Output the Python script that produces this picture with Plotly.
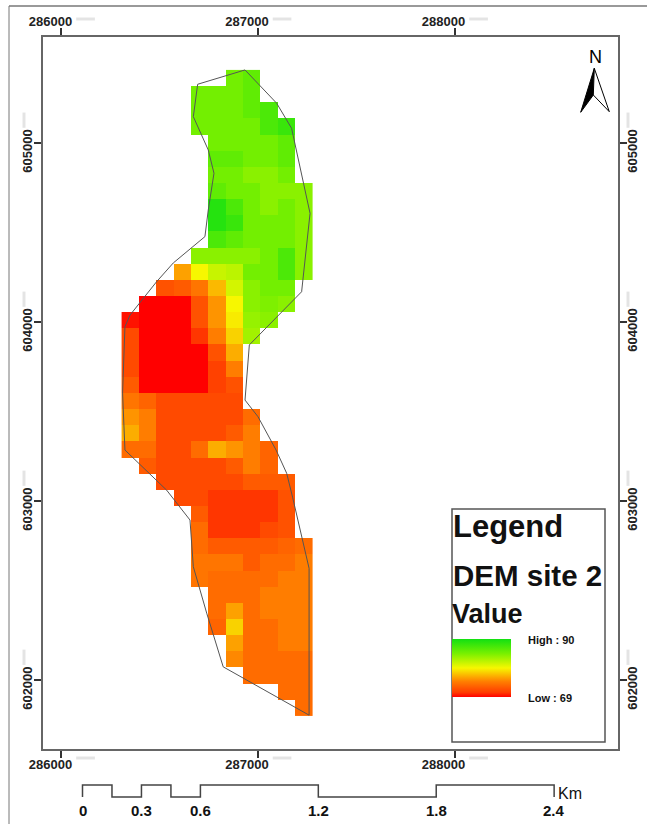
import plotly.graph_objects as go

N = None
# DEM raster, one row per 90 m cell band from north to south, 11 columns from west to east
dem_rows = [
    [N, N, N, N, N, N, 85, 86, N, N, N],
    [N, N, N, N, 85, 85, 85, 86, N, N, N],
    [N, N, N, N, 85, 85, 85, 86, 87, N, N],
    [N, N, N, N, 85, 85, 85, 85, 87, 88, N],
    [N, N, N, N, N, 85, 85, 85, 85, 86, N],
    [N, N, N, N, N, 86, 86, 85, 85, 86, N],
    [N, N, N, N, N, 85, 85, 84, 84, 85, N],
    [N, N, N, N, N, 86, 85, 85, 84, 84, 84],
    [N, N, N, N, N, 89, 87, 85, 84, 85, 84],
    [N, N, N, N, N, 89, 88, 85, 85, 85, 84],
    [N, N, N, N, N, 87, 86, 85, 85, 85, 84],
    [N, N, N, N, 84, 84, 84, 84, 85, 87, 84],
    [N, N, N, 76, 79.5, 81.5, 82, 85, 85, 87, 84],
    [N, N, 72, 72.5, 74, 77, 81, 84, 85, 85, N],
    [N, 69, 69, 69, 72, 75.5, 79.5, 84, 84.5, 84, N],
    [69.5, 69, 69, 69, 72, 75.5, 79, 83.5, 84, N, N],
    [71.5, 69, 69, 69, 70.5, 74.5, 78, 83, N, N, N],
    [71.5, 69, 69, 69, 69, 72, 76.5, N, N, N, N],
    [71.5, 69, 69, 69, 69, 71, 74.5, N, N, N, N],
    [72.5, 69, 69, 69, 69, 71, 72, N, N, N, N],
    [74, 73, 71.5, 71.5, 71.5, 71.5, 71.5, N, N, N, N],
    [75.5, 74.5, 71.5, 71.5, 71.5, 71.5, 71.5, 73.5, N, N, N],
    [76.5, 74.5, 71.5, 71.5, 71.5, 71.5, 72.5, 74.5, N, N, N],
    [73.5, 73.5, 71.5, 71.5, 73.5, 76.5, 75.5, 74.5, 73, N, N],
    [N, 72.5, 71.5, 71.5, 71.5, 71.5, 72.5, 74.5, 73, N, N],
    [N, N, 71.5, 71.5, 71.5, 71.5, 71.5, 72.5, 72.5, 72.5, N],
    [N, N, N, 71.5, 71.5, 70.5, 70.5, 70.5, 70.5, 72, N],
    [N, N, N, N, 72.5, 70.5, 70.5, 70.5, 70.5, 72, N],
    [N, N, N, N, 73.5, 70.5, 70.5, 70.5, 71.5, 72, N],
    [N, N, N, N, 73.5, 72.5, 72.5, 72.5, 72.5, 73, 73.5],
    [N, N, N, N, 74, 74, 74, 72.5, 73.5, 73.5, 74.5],
    [N, N, N, N, 74, 73.5, 73.5, 73.5, 73.5, 74.5, 74.5],
    [N, N, N, N, N, 73.5, 73.5, 73.5, 74.5, 74.5, 74.5],
    [N, N, N, N, N, 73.5, 76, 73.5, 74.5, 74.5, 74.5],
    [N, N, N, N, N, 73, 78, 73.5, 73.5, 74.5, 74.5],
    [N, N, N, N, N, N, 76, 73.5, 73.5, 74.5, 74.5],
    [N, N, N, N, N, N, 75, 73.5, 73.5, 73.5, 73.5],
    [N, N, N, N, N, N, N, 73.5, 73.5, 73.5, 73.5],
    [N, N, N, N, N, N, N, N, N, 73.5, 73.5],
    [N, N, N, N, N, N, N, N, N, N, 73.5],
]
boundary_x = [286693, 286934, 287095, 287171, 287265, 287227, 287222, 286956, 286934, 287000,
              287092, 287146, 287176, 287260, 287260, 286823, 286739, 286671, 286654, 286535,
              286391, 286323, 286311, 286323, 286349, 286484, 286569, 286730, 286747, 286776,
              286747, 286671, 286693]
boundary_y = [605328, 605408, 605222, 605082, 604607, 604235, 604169, 603872, 603564, 603471,
              603285, 603155, 603022, 602624, 601804, 602074, 602374, 602633, 602894, 603061,
              603211, 603285, 603603, 603974, 604039, 604225, 604330, 604477, 604626, 604831,
              604961, 605147, 605328]
x_ticks = [286000, 287000, 288000]
y_ticks = [602000, 603000, 604000, 605000]
scale_km = [0, 0.15, 0.3, 0.45, 0.6, 1.2, 1.8, 2.4]
scale_labels = {0: "0", 0.3: "0.3", 0.6: "0.6", 1.2: "1.2", 1.8: "1.8", 2.4: "2.4"}
dem_low, dem_high = 69, 90

W, H = 647, 824
L, R, T, B = 43, 618, 37, 749
X_RANGE = [285906, 288832]
Y_RANGE = [601615, 605592]
FONT = "Liberation Sans"
colorscale = [[0, "#ff0000"], [0.08, "#ff3c00"], [0.27, "#ff8000"], [0.5, "#f7f700"],
              [0.75, "#78f000"], [1, "#12e012"]]


def px(x):
    return (x - L) / (R - L)


def py(y):
    return 1 - (y - T) / (B - T)


fig = go.Figure()
fig.add_trace(go.Heatmap(
    z=dem_rows, x0=286350, dx=88.2, y0=605363, dy=-90.2,
    colorscale=colorscale, zmin=dem_low, zmax=dem_high, hoverongaps=False,
    colorbar=dict(
        thickness=59, thicknessmode="pixels", len=58, lenmode="pixels",
        x=px(452), xanchor="left", y=py(697), yanchor="bottom",
        xpad=0, ypad=0, outlinewidth=0, ticks="", showticklabels=False,
    ),
))
fig.add_trace(go.Scatter(x=boundary_x, y=boundary_y, mode="lines",
                         line=dict(color="#555555", width=1), showlegend=False))
fig.add_trace(go.Scatter(x=[X_RANGE[0]], y=[Y_RANGE[0]], xaxis="x2", yaxis="y2", mode="markers",
                         marker=dict(opacity=0), showlegend=False, hoverinfo="skip"))

tickfont = dict(family=FONT, size=13, color="#222222")
common = dict(showgrid=False, zeroline=False, showline=True, linecolor="#666666", linewidth=2,
              ticks="outside", ticklen=7, tickwidth=2, tickcolor="#333333", tickfont=tickfont)
x_text = [f"<b>{v}</b>" for v in x_ticks]
y_text = [f"<b>{v}</b>" for v in y_ticks]
fig.update_layout(
    width=W, height=H, margin=dict(l=L, r=W - R, t=T, b=H - B, autoexpand=False),
    paper_bgcolor="white", plot_bgcolor="white", showlegend=False,
    xaxis=dict(range=X_RANGE, tickvals=x_ticks, ticktext=x_text, side="bottom",
               ticklabelshift=-11, ticklabelstandoff=-5, **common),
    xaxis2=dict(range=X_RANGE, tickvals=x_ticks, ticktext=x_text, side="top", overlaying="x", anchor="y",
                ticklabelshift=-11, ticklabelstandoff=-3, **common),
    yaxis=dict(range=Y_RANGE, tickvals=y_ticks, ticktext=y_text, side="left", tickangle=-90,
               ticklabelshift=10, ticklabelstandoff=-3, **common),
    yaxis2=dict(range=Y_RANGE, tickvals=y_ticks, ticktext=y_text, side="right", overlaying="y", anchor="x",
                tickangle=-90, ticklabelshift=10, ticklabelstandoff=-6, **common),
)

shapes = []
ann = []


def text(x, y, s, size, bold=True, anchor="left", color="#111111"):
    ann.append(dict(x=px(x), y=py(y), xref="paper", yref="paper", text=f"<b>{s}</b>" if bold else s,
                    showarrow=False, xanchor=anchor, yanchor="middle", xshift=0, yshift=0,
                    font=dict(family=FONT, size=size, color=color)))


# outer border of the picture
shapes.append(dict(type="line", xref="paper", yref="paper", x0=px(9), x1=px(9), y0=py(6), y1=py(824),
                   line=dict(color="#777777", width=1)))
shapes.append(dict(type="line", xref="paper", yref="paper", x0=px(9), x1=px(647), y0=py(6), y1=py(6),
                   line=dict(color="#777777", width=1.5)))
# legend frame
shapes.append(dict(type="rect", xref="paper", yref="paper", x0=px(452), x1=px(605), y0=py(742), y1=py(509),
                   line=dict(color="#555555", width=1.5)))
# north arrow
shapes.append(dict(type="path", xref="paper", yref="paper", fillcolor="#000000", line=dict(color="#000000", width=1),
                   path=f"M {px(594.3)} {py(68.3)} L {px(580.7)} {py(112.3)} L {px(593.3)} {py(95)} Z"))
shapes.append(dict(type="path", xref="paper", yref="paper", fillcolor="#ffffff", line=dict(color="#000000", width=1),
                   path=f"M {px(594.3)} {py(68.3)} L {px(609.3)} {py(111.7)} L {px(593.3)} {py(95)} Z"))
# faint smudges beside the coordinate labels
for tick in x_ticks:
    for yy in (19, 758):
        shapes.append(dict(type="line", xref="x", yref="paper", x0=tick + 75, x1=tick + 170,
                           y0=py(yy), y1=py(yy), line=dict(color="#e4e4e4", width=3)))
for tick in y_ticks:
    for xx in (24, 628):
        shapes.append(dict(type="line", xref="paper", yref="y", x0=px(xx), x1=px(xx),
                           y0=tick + 85, y1=tick + 170, line=dict(color="#e4e4e4", width=3)))
# scale bar: alternating blocks, x taken from the km stops on the map axis
bar_x0 = 286107
bar_hi, bar_lo = py(785), py(797)
segments = [f"M {bar_x0} {bar_lo}"]
for i, km in enumerate(scale_km):
    here = bar_x0 + km * 1000
    if i > 0:
        segments.append(f"L {here} {bar_hi if i % 2 == 1 else bar_lo}")
    segments.append(f"L {here} {bar_hi if i % 2 == 0 else bar_lo}")
segments.append(f"L {bar_x0 + scale_km[-1] * 1000} {bar_lo}")
shapes.append(dict(type="path", xref="x", yref="paper", path=" ".join(segments),
                   line=dict(color="#444444", width=1.5)))

text(451, 526, "Legend", 31)
text(451, 575, "DEM site 2", 29.5)
text(450, 614, "Value", 27)
text(526, 640, f"High : {dem_high}", 11)
text(526, 698, f"Low : {dem_low}", 11)
text(595.5, 57, "N", 18, bold=False, anchor="center", color="#000000")
text(556, 793, "Km", 16, bold=False)
for km, label in scale_labels.items():
    text(82.5 + km * 196.5, 810, label, 15, anchor="center")

fig.update_layout(shapes=shapes, annotations=ann)
fig.write_html("out.html", config=dict(displayModeBar=False),
               post_script="document.body.style.margin='0';document.body.style.overflow='hidden';")
